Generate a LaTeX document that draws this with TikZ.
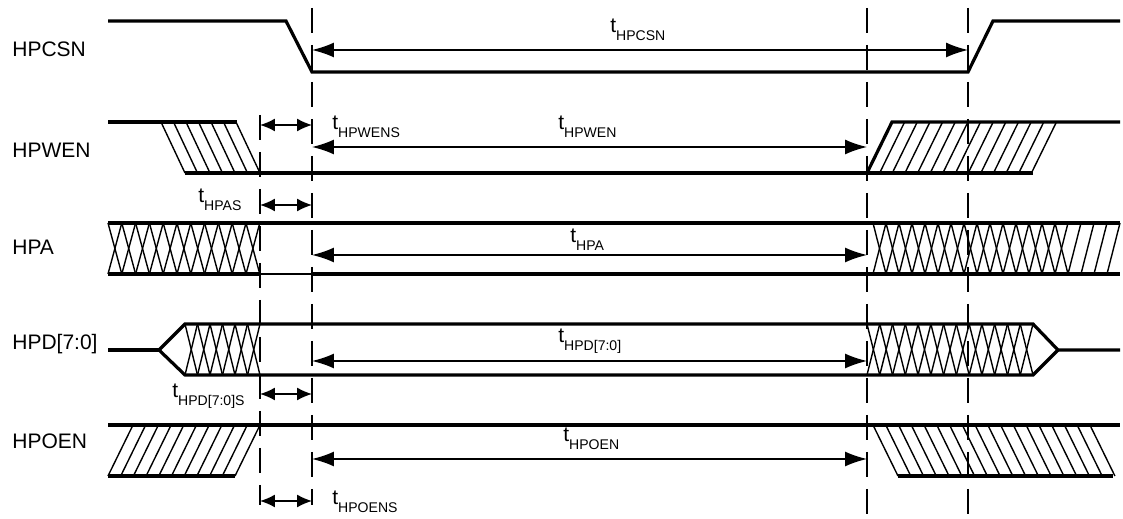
\documentclass[tikz,border=0pt]{standalone}
\usepackage{fontspec}
\setmainfont{Liberation Sans}
\usetikzlibrary{arrows.meta}

% timing label: t with lowered subscript
\newcommand{\tname}[1]{t\raisebox{-0.34em}{\fontsize{8}{9}\selectfont #1}}

\begin{document}
\begin{tikzpicture}[x=0.02cm, y=-0.02cm,
        sig/.style={line width=0.064cm, line join=miter},
        hatch/.style={line width=0.028cm},
        guide/.style={line width=0.028cm, dash pattern=on 0.5cm off 0.24cm},
        tlong/.style={line width=0.028cm, {Latex[length=0.44cm,width=0.3cm]}-{Latex[length=0.44cm,width=0.3cm]}},
        tshort/.style={line width=0.028cm, {Latex[length=0.3cm,width=0.26cm]}-{Latex[length=0.3cm,width=0.26cm]}},
        lbl/.style={anchor=base west, inner sep=0pt, font=\fontsize{11.95}{14}\selectfont}]
        \useasboundingbox (0,0) rectangle (1123,519);

        % Linee tratteggiate di riferimento
        \draw[guide] (260,115) -- (260,505);
        \draw[guide] (312,8) -- (312,505);
        \draw[guide] (867,8) -- (867,517);
        \draw[guide] (968,8) -- (968,517);

        % Nomi dei segnali
        \node[lbl] (nCSN) at (12,57) {HPCSN};
        \node[lbl] (nWEN) at (12,158) {HPWEN};
        \node[lbl] (nA) at (12,255) {HPA};
        \node[lbl] (nD) at (12,350) {HPD[7:0]};
        \node[lbl] (nOEN) at (12,449) {HPOEN};

        % HPCSN
        \draw[sig] (108,21) -- (286,21) -- (312,72) -- (968,72) -- (993,21) -- (1120,21);
        \draw[tlong] (312,50) -- (968,50);
        \node[lbl] (tCSN) at (610,33) {\tname{HPCSN}};

        % HPWEN
        \draw[sig] (108,122) -- (237,122);
        \draw[sig] (185,173) -- (1033,173);
        \draw[sig] (867,173) -- (892,122) -- (1120,122);
        \foreach \k in {0,...,6}
            \draw[hatch] ({161+12.5*\k},122) -- ({185+12.5*\k},173);
        \foreach \k in {1,...,13}
            \draw[hatch] ({867+12.65*\k},173) -- ({892+12.65*\k},122);
        \draw[tshort] (260,125) -- (312,125);
        \draw[tlong] (312,147) -- (867,147);
        \node[lbl] (tWENS) at (332,130) {\tname{HPWENS}};
        \node[lbl] (tWEN) at (558,130) {\tname{HPWEN}};

        % HPA
        \draw[sig] (108,223) -- (1120,223);
        \draw[sig] (108,274) -- (260,274);
        \draw[line width=0.04cm] (260,274) -- (312,274);
        \draw[sig] (312,274) -- (1120,274);
        \foreach \k in {0,...,10} {
            \draw[hatch] ({108+13.8*\k},223) -- ({121.8+13.8*\k},274);
            \draw[hatch] ({108+13.8*\k},274) -- ({121.8+13.8*\k},223);
        }
        \foreach \k in {0,...,14}
            \draw[hatch] ({873+13*\k},223) -- ({886+13*\k},274);
        \foreach \k in {0,...,18}
            \draw[hatch] ({873+13*\k},274) -- ({886+13*\k},223);
        \draw[tshort] (260,205) -- (312,205);
        \draw[tlong] (312,255) -- (867,255);
        \node[lbl] (tAS) at (198,203) {\tname{HPAS}};
        \node[lbl] (tA) at (570,243) {\tname{HPA}};

        % HPD[7:0]
        \draw[sig] (108,350) -- (159,350);
        \draw[sig] (159,350) -- (185,324) -- (1033,324) -- (1058,350) -- (1120,350);
        \draw[sig] (159,350) -- (185,375) -- (1033,375) -- (1058,350);
        \foreach \k in {0,...,5} {
            \draw[hatch] ({185+12.5*\k},324) -- ({197.5+12.5*\k},375);
            \draw[hatch] ({185+12.5*\k},375) -- ({197.5+12.5*\k},324);
        }
        \foreach \k in {0,...,12} {
            \draw[hatch] ({867+12.77*\k},324) -- ({879.77+12.77*\k},375);
            \draw[hatch] ({867+12.77*\k},375) -- ({879.77+12.77*\k},324);
        }
        \draw[tshort] (260,394) -- (312,394);
        \draw[tlong] (312,361) -- (867,361);
        \node[lbl] (tDS) at (172,398) {\tname{HPD[7:0]S}};
        \node[lbl] (tD) at (558,343) {\tname{HPD[7:0]}};

        % HPOEN
        \draw[sig] (108,425) -- (1120,425);
        \draw[sig] (108,476) -- (235,476);
        \draw[sig] (898,476) -- (1113,476);
        \foreach \k in {0,...,10}
            \draw[hatch] ({108+12.7*\k},476) -- ({133+12.7*\k},425);
        \foreach \k in {0,...,17}
            \draw[hatch] ({873+12.76*\k},425) -- ({898+12.76*\k},476);
        \draw[tshort] (260,501) -- (312,501);
        \draw[tlong] (312,459) -- (867,459);
        \node[lbl] (tOENS) at (332,505) {\tname{HPOENS}};
        \node[lbl] (tOEN) at (563,442) {\tname{HPOEN}};
\end{tikzpicture}
\end{document}
